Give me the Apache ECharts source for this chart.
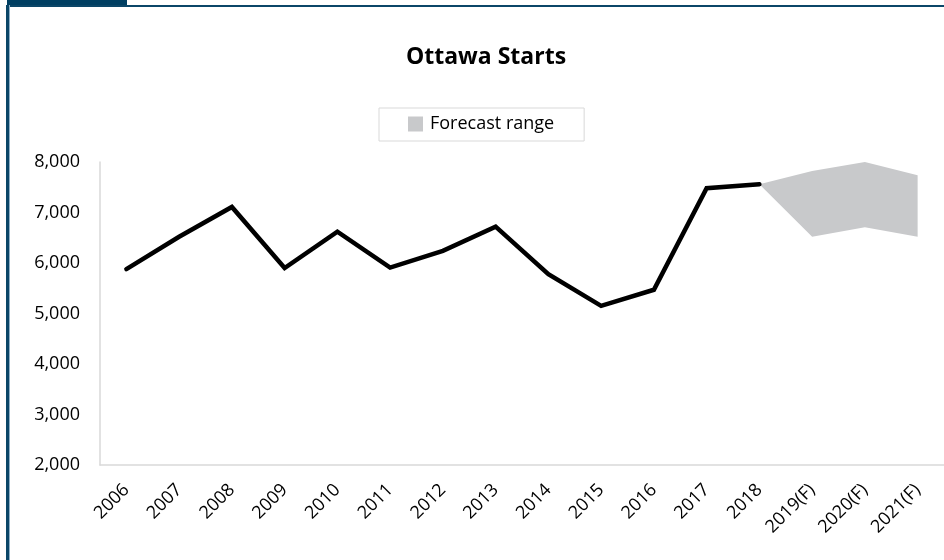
<!DOCTYPE html>
<html>
<head>
<meta charset="utf-8">
<script src="https://cdn.jsdelivr.net/npm/echarts@6/dist/echarts.min.js"></script>
<style>
  html, body { margin: 0; padding: 0; background: #fff; }
  #wrap { position: relative; width: 944px; height: 560px; overflow: hidden; }
  #chart { position: absolute; left: 0; top: 0; width: 944px; height: 560px; }
  .tab { position: absolute; left: 7px; top: 0; width: 120px; height: 7px; background: #003f62; }
  .topline { position: absolute; left: 7px; top: 5px; width: 937px; height: 2px; background: #0b4668; }
  .leftline { position: absolute; left: 6px; top: 5px; width: 3px; height: 555px; background: #0b4668; border-right: 1px solid #8fb0c7; }
</style>
</head>
<body>
<div id="wrap">
  <div id="chart"></div>
  <div class="tab"></div>
  <div class="topline"></div>
  <div class="leftline"></div>
</div>
<script>
// Ottawa housing starts, actuals 2006-2018 and forecast range 2019-2021
const categories = ['2006', '2007', '2008', '2009', '2010', '2011', '2012', '2013',
  '2014', '2015', '2016', '2017', '2018', '2019(F)', '2020(F)', '2021(F)'];
const starts = [5880, 6520, 7110, 5900, 6620, 5910, 6240, 6720,
  5780, 5150, 5470, 7480, 7560, null, null, null];
const forecastLow = [null, null, null, null, null, null, null, null,
  null, null, null, null, 7560, 6520, 6710, 6520];
const forecastHigh = [null, null, null, null, null, null, null, null,
  null, null, null, null, 7560, 7820, 8000, 7740];
const yTicks = [2000, 3000, 4000, 5000, 6000, 7000, 8000];

const forecastSpan = forecastHigh.map((h, i) =>
  h == null || forecastLow[i] == null ? null : h - forecastLow[i]);

const FONT = '"Open Sans", Lato, sans-serif';
const chart = echarts.init(document.getElementById('chart'), null, { renderer: 'canvas' });

chart.setOption({
  animation: false,
  textStyle: { fontFamily: FONT },
  title: {
    text: 'Ottawa Starts',
    left: 481,
    textAlign: 'center',
    top: 41,
    textStyle: { fontFamily: FONT, fontSize: 23, fontWeight: 'bold', color: '#000' }
  },
  legend: {
    data: ['Forecast range'],
    left: 379,
    top: 108,
    padding: [7, 30, 8, 29],
    borderColor: '#d9d9d9',
    borderWidth: 1,
    backgroundColor: '#fff',
    icon: 'rect',
    itemWidth: 15,
    itemHeight: 15,
    textStyle: { fontFamily: FONT, fontSize: 18, color: '#000', padding: [1, 0, 0, 2] }
  },
  grid: { left: 100, top: 162, width: 854, height: 303, containLabel: false },
  xAxis: {
    type: 'category',
    data: categories,
    boundaryGap: true,
    axisLine: { show: true, lineStyle: { color: '#d9d9d9', width: 1.5 } },
    axisTick: { show: false },
    axisLabel: {
      rotate: 45,
      margin: 22,
      interval: 0,
      fontFamily: FONT,
      fontSize: 18,
      color: '#000'
    },
    splitLine: { show: false }
  },
  yAxis: {
    type: 'value',
    min: yTicks[0],
    max: yTicks[yTicks.length - 1],
    interval: 1000,
    axisLine: { show: true, lineStyle: { color: '#d9d9d9', width: 1.5 } },
    axisTick: { show: false },
    splitLine: { show: false },
    axisLabel: {
      margin: 20,
      fontFamily: FONT,
      fontSize: 18,
      color: '#000',
      formatter: v => v.toLocaleString('en-US')
    }
  },
  series: [
    {
      name: 'band-base',
      type: 'line',
      data: forecastLow,
      stack: 'forecast',
      symbol: 'none',
      lineStyle: { opacity: 0 },
      silent: true
    },
    {
      name: 'Forecast range',
      type: 'line',
      data: forecastSpan,
      stack: 'forecast',
      symbol: 'none',
      clip: false,
      lineStyle: { opacity: 0 },
      itemStyle: { color: '#c8c9cb' },
      areaStyle: { color: '#c8c9cb', opacity: 1 },
      silent: true
    },
    {
      name: 'Starts',
      type: 'line',
      data: starts,
      symbol: 'none',
      z: 5,
      lineStyle: { color: '#000', width: 4.5, cap: 'round', join: 'miter' },
      itemStyle: { color: '#000' }
    }
  ]
});
</script>
</body>
</html>
